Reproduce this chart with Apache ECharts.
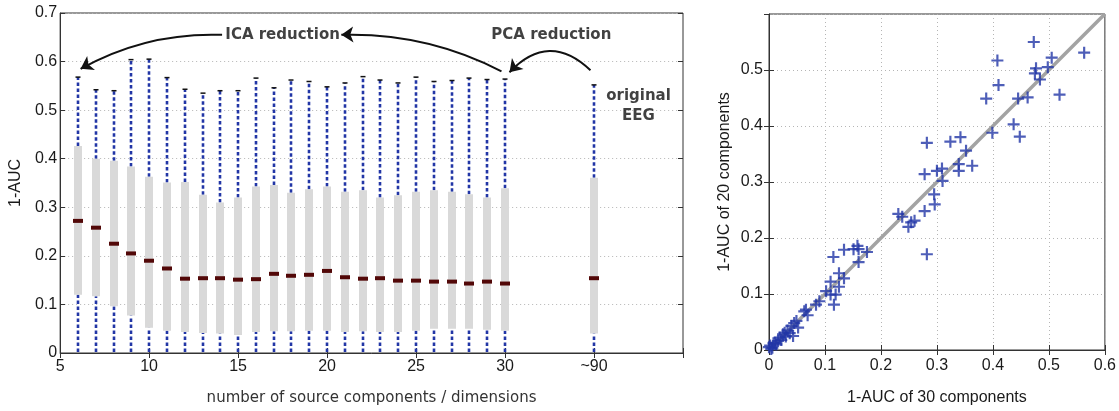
<!DOCTYPE html>
<html lang="en">

<head>
    <meta charset="UTF-8">
    <title>1-AUC by number of components</title>
    <style>
        body {
            margin: 0;
            background: #fff;
        }

        #chart {
            width: 1119px;
            height: 411px;
        }
    </style>
</head>

<body>
    <div id="chart"></div>
    <script src="https://cdn.jsdelivr.net/npm/echarts@6/dist/echarts.min.js"></script>
    <script>
        // left panel: box plots per number of components (35 stands for "~90" = original EEG)
        const comps = [6, 7, 8, 9, 10, 11, 12, 13, 14, 15, 16, 17, 18, 19, 20, 21, 22, 23, 24, 25, 26, 27, 28, 29, 30, 35];
        const maxVals = [0.568, 0.542, 0.540, 0.604, 0.605, 0.567, 0.543, 0.535, 0.540, 0.540, 0.566, 0.546, 0.562,
            0.559, 0.548, 0.556, 0.569, 0.562, 0.556, 0.568, 0.559, 0.561, 0.566, 0.563, 0.564, 0.552];
        const q3Vals = [0.426, 0.400, 0.396, 0.384, 0.363, 0.351, 0.352, 0.326, 0.310, 0.320, 0.343, 0.346, 0.330,
            0.337, 0.343, 0.332, 0.335, 0.320, 0.325, 0.332, 0.335, 0.332, 0.327, 0.320, 0.339, 0.361];
        const medVals = [0.272, 0.258, 0.225, 0.205, 0.190, 0.174, 0.153, 0.154, 0.154, 0.151, 0.152, 0.163, 0.159,
            0.161, 0.169, 0.156, 0.153, 0.154, 0.149, 0.149, 0.147, 0.147, 0.143, 0.147, 0.143, 0.154];
        const q1Vals = [0.120, 0.117, 0.096, 0.077, 0.052, 0.046, 0.043, 0.041, 0.040, 0.037, 0.043, 0.045, 0.045,
            0.046, 0.046, 0.043, 0.045, 0.043, 0.043, 0.046, 0.050, 0.050, 0.050, 0.048, 0.046, 0.040];
        const minVals = [0.002, 0.002, 0.002, 0.002, 0.002, 0.002, 0.002, 0.002, 0.002, 0.002, 0.002, 0.002, 0.002,
            0.002, 0.002, 0.002, 0.002, 0.002, 0.002, 0.002, 0.002, 0.002, 0.002, 0.002, 0.002, 0.002];

        const xTicks = [5, 10, 15, 20, 25, 30, 35];
        const xTickText = ['5', '10', '15', '20', '25', '30', '~90'];

        // annotations (data coords of left panel)
        const noteText = ['ICA reduction', 'PCA reduction', 'original\nEEG'];
        const noteX = [17.5, 32.6, 37.5];
        const noteY = [0.655, 0.655, 0.508];
        // arrows: [from, to]
        const arrows = [
            [[14.1, 0.655], [6.15, 0.585]],
            [[29.8, 0.580], [20.8, 0.655]],
            [[34.8, 0.582], [30.25, 0.578]]
        ];
        const arrowBend = [-0.14, -0.13, -0.5];

        // right panel: scatter 1-AUC with 30 vs 20 components
        const auc30 = [0.473, 0.563, 0.408, 0.505, 0.498, 0.477, 0.475, 0.484, 0.410, 0.519, 0.388, 0.445, 0.462,
            0.437, 0.399, 0.448, 0.282, 0.324, 0.342, 0.352, 0.339, 0.363, 0.339, 0.278, 0.300, 0.309, 0.310, 0.295,
            0.296, 0.278, 0.231, 0.238, 0.260, 0.254, 0.249, 0.282, 0.115, 0.134, 0.151, 0.160, 0.158, 0.175, 0.160,
            0.125, 0.134, 0.110, 0.125, 0.102, 0.110, 0.119, 0.116, 0.090, 0.084, 0.063, 0.069, 0.066, 0.049, 0.052,
            0.040, 0.045, 0.028, 0.037, 0.043, 0.033, 0.019, 0.022, 0.011, 0.016, 0.013, 0.002, 0.000, 0.006, 0.008,
            0.004, 0.025, 0.030];
        const auc20 = [0.550, 0.531, 0.517, 0.522, 0.505, 0.503, 0.494, 0.483, 0.473, 0.456, 0.449, 0.449, 0.451,
            0.403, 0.388, 0.381, 0.370, 0.372, 0.380, 0.356, 0.332, 0.329, 0.320, 0.314, 0.320, 0.324, 0.302, 0.278,
            0.260, 0.248, 0.243, 0.238, 0.231, 0.228, 0.220, 0.171, 0.166, 0.179, 0.180, 0.180, 0.186, 0.175, 0.157,
            0.137, 0.128, 0.122, 0.113, 0.105, 0.099, 0.099, 0.081, 0.087, 0.081, 0.069, 0.062, 0.072, 0.052, 0.040,
            0.043, 0.048, 0.031, 0.030, 0.025, 0.035, 0.022, 0.018, 0.013, 0.016, 0.010, 0.008, 0.005, 0.004, 0.012,
            0.002, 0.028, 0.024];
        const diag = [[0, 0], [0.6, 0.6]];

        const BLUE = '#2236a6';
        const TICK_FONT = { fontFamily: 'Liberation Sans', fontSize: 16, color: '#1a1a1a' };
        const plus = 'path://M5,0h2.2v5h5v2.2h-5v5h-2.2v-5h-5v-2.2h5z';

        const chart = echarts.init(document.getElementById('chart'));

        function renderBox(params, api) {
            const x = api.value(0);
            const pMin = api.coord([x, api.value(1)]);
            const pQ1 = api.coord([x, api.value(2)]);
            const pMed = api.coord([x, api.value(3)]);
            const pQ3 = api.coord([x, api.value(4)]);
            const pMax = api.coord([x, api.value(5)]);
            const cx = Math.round(pQ1[0]);
            const dash = { stroke: BLUE, lineWidth: 2.6, lineDash: [3.5, 2.5] };
            return {
                type: 'group',
                children: [
                    { type: 'line', shape: { x1: cx, y1: pQ3[1], x2: cx, y2: pMax[1] }, style: dash },
                    { type: 'line', shape: { x1: cx, y1: pMin[1], x2: cx, y2: pQ1[1] }, style: dash },
                    { type: 'line', shape: { x1: cx - 2.5, y1: pMax[1], x2: cx + 2.5, y2: pMax[1] }, style: { stroke: '#111', lineWidth: 1.5 } },
                    { type: 'rect', shape: { x: cx - 4, y: pQ3[1], width: 8, height: pQ1[1] - pQ3[1] }, style: { fill: '#d9d9d9' } },
                    { type: 'rect', shape: { x: cx - 5, y: pMed[1] - 2, width: 10, height: 4 }, style: { fill: '#520808' } }
                ]
            };
        }

        const dotted = { show: true, lineStyle: { color: '#b5b5b5', type: [1, 3], width: 1 } };
        const inTick = { inside: true, length: 5, lineStyle: { color: '#333' } };
        const axLine = { lineStyle: { color: '#333', width: 1 } };

        function mirrorAxis(pos, gridIndex, min, max, interval) {
            return {
                type: 'value', gridIndex, position: pos, min, max, interval,
                axisLine: { show: false }, axisTick: inTick, axisLabel: { show: false }, splitLine: { show: false }
            };
        }

        const option = {
            animation: false,
            grid: [
                { left: 60, right: 436, top: 13, bottom: 55, show: true, borderColor: '#333', borderWidth: 1 },
                { left: 769, right: 9, top: 14, bottom: 57, show: true, borderColor: '#333', borderWidth: 1 }
            ],
            xAxis: [
                {
                    type: 'value', gridIndex: 0, min: 5, max: 40, interval: 5,
                    axisLine: axLine, axisTick: inTick, splitLine: { show: false },
                    axisLabel: Object.assign({}, TICK_FONT, {
                        margin: 6,
                        formatter: v => { const i = xTicks.indexOf(v); return i < 0 ? '' : xTickText[i]; }
                    }),
                    name: 'number of source components / dimensions', nameLocation: 'middle', nameGap: 38,
                    nameTextStyle: { fontFamily: 'DejaVu Sans', fontSize: 15, color: '#333' }
                },
                mirrorAxis('top', 0, 5, 40, 5),
                {
                    type: 'value', gridIndex: 1, min: 0, max: 0.6, interval: 0.1,
                    axisLine: axLine, axisTick: inTick, splitLine: dotted,
                    axisLabel: Object.assign({}, TICK_FONT, { margin: 8 }),
                    name: '1-AUC of 30 components', nameLocation: 'middle', nameGap: 40,
                    nameTextStyle: { fontFamily: 'Liberation Sans', fontSize: 16, color: '#1a1a1a' }
                },
                mirrorAxis('top', 1, 0, 0.6, 0.1)
            ],
            yAxis: [
                {
                    type: 'value', gridIndex: 0, min: 0, max: 0.7, interval: 0.1,
                    axisLine: axLine, axisTick: inTick, splitLine: dotted,
                    axisLabel: Object.assign({}, TICK_FONT, { margin: 3 }),
                    name: '1-AUC', nameLocation: 'middle', nameGap: 34,
                    nameTextStyle: { fontFamily: 'Liberation Sans', fontSize: 16, color: '#1a1a1a' }
                },
                mirrorAxis('right', 0, 0, 0.7, 0.1),
                {
                    type: 'value', gridIndex: 1, min: 0, max: 0.6, interval: 0.1,
                    axisLine: axLine, axisTick: inTick, splitLine: dotted,
                    axisLabel: Object.assign({}, TICK_FONT, { margin: 6, showMaxLabel: false }),
                    name: '1-AUC of 20 components', nameLocation: 'middle', nameGap: 36,
                    nameTextStyle: { fontFamily: 'Liberation Sans', fontSize: 16, color: '#1a1a1a' }
                },
                mirrorAxis('right', 1, 0, 0.6, 0.1)
            ],
            series: [
                {
                    type: 'custom', xAxisIndex: 0, yAxisIndex: 0,
                    renderItem: renderBox,
                    encode: { x: 0, y: [1, 2, 3, 4, 5] },
                    data: comps.map((c, i) => [c, minVals[i], q1Vals[i], medVals[i], q3Vals[i], maxVals[i]]),
                    z: 2
                },
                {
                    type: 'lines', coordinateSystem: 'cartesian2d', xAxisIndex: 0, yAxisIndex: 0,
                    symbol: ['none', 'arrow'], symbolSize: [9, 12],
                    lineStyle: { color: '#111', width: 2, opacity: 1 },
                    data: arrows.map((a, i) => ({ coords: a, lineStyle: { curveness: arrowBend[i] } })),
                    z: 5
                },
                {
                    type: 'scatter', xAxisIndex: 0, yAxisIndex: 0, symbolSize: 1,
                    itemStyle: { color: 'rgba(0,0,0,0)' },
                    label: {
                        show: true, position: 'inside', formatter: p => p.data[2],
                        fontFamily: 'DejaVu Sans', fontWeight: 'bold', fontSize: 15, color: '#111', lineHeight: 20
                    },
                    data: noteText.map((t, i) => [noteX[i], noteY[i], t]),
                    z: 6
                },
                {
                    type: 'line', xAxisIndex: 2, yAxisIndex: 2, data: diag, symbol: 'none',
                    lineStyle: { color: '#a3a3a3', width: 3.5 }, z: 2
                },
                {
                    type: 'scatter', xAxisIndex: 2, yAxisIndex: 2, symbol: plus, symbolSize: 12,
                    itemStyle: { color: BLUE },
                    data: auc30.map((v, i) => [v, auc20[i]]),
                    z: 3
                }
            ]
        };

        chart.setOption(option);
    </script>
</body>

</html>
